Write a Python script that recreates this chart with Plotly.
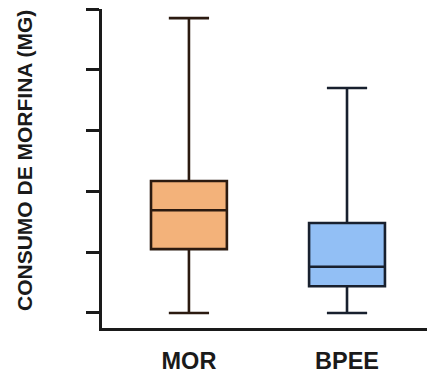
import plotly.graph_objects as go

categories = ["MOR", "BPEE"]
lower = [0.0, 0.0]
q1 = [10.5, 4.4]
median = [16.9, 7.6]
q3 = [21.7, 14.8]
upper = [48.5, 37.0]
fills = ["#F3B27A", "#92BFF5"]
edges = ["#2b1a10", "#18202e"]
y_ticks = [0, 10, 20, 30, 40, 50]
y_title = "CONSUMO DE MORFINA (MG)"

fig = go.Figure()
for i, c in enumerate(categories):
    fig.add_trace(go.Box(
        x=[c], q1=[q1[i]], median=[median[i]], q3=[q3[i]],
        lowerfence=[lower[i]], upperfence=[upper[i]],
        fillcolor=fills[i], line=dict(color=edges[i], width=2.6),
        width=0.48, whiskerwidth=0.53, boxpoints=False,
        showlegend=False, hoverinfo="skip",
    ))

fig.update_layout(
    width=427, height=375,
    margin=dict(l=102, r=0, t=9, b=47),
    paper_bgcolor="white", plot_bgcolor="white",
    font=dict(family="Liberation Sans, Arial, sans-serif", color="#1a1a1a"),
    xaxis=dict(
        type="category", categoryorder="array", categoryarray=categories,
        range=[-0.55, 1.506], showline=True, linecolor="#1a1a1a", linewidth=3,
        ticks="", showgrid=False, zeroline=False, ticklabelstandoff=10,
        tickfont=dict(size=23.5, weight="bold", color="#1a1a1a"),
    ),
    yaxis=dict(
        range=[-2.47, 50], tickvals=y_ticks, showticklabels=False,
        ticks="outside", ticklen=13, tickwidth=2.6, tickcolor="#1a1a1a",
        showline=True, linecolor="#1a1a1a", linewidth=3,
        showgrid=False, zeroline=False,
    ),
    annotations=[dict(
        text=y_title, xref="paper", yref="paper", x=-0.2385, y=0.525,
        xanchor="center", yanchor="middle", textangle=-90, showarrow=False,
        font=dict(size=21, weight="bold", color="#1a1a1a"),
    )],
)

fig.write_html("out.html", config={"displayModeBar": False},
               post_script="document.body.style.margin='0';")
